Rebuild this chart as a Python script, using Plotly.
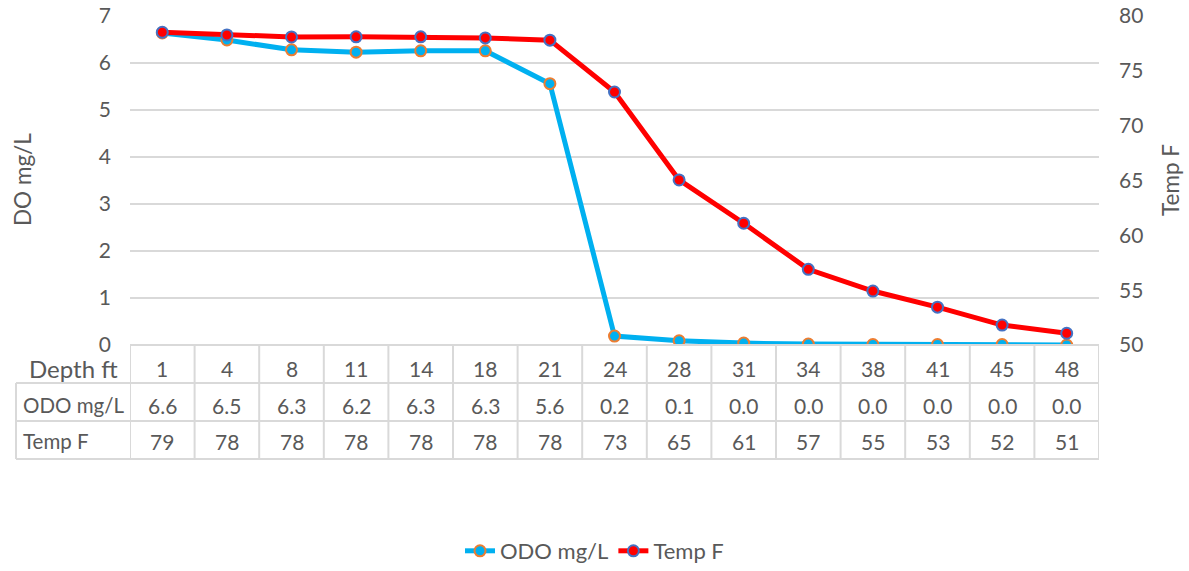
import plotly.graph_objects as go

# Profile data by depth
depth_ft = ["1", "4", "8", "11", "14", "18", "21", "24", "28", "31", "34", "38", "41", "45", "48"]
odo_mg_l = [6.64, 6.49, 6.28, 6.23, 6.26, 6.26, 5.56, 0.19, 0.09, 0.04, 0.02, 0.01, 0.01, 0.01, 0.0]
temp_f = [78.52, 78.27, 78.09, 78.1, 78.1, 78.0, 77.8, 73.07, 65.05, 61.1, 56.9, 54.92, 53.45, 51.82, 51.07]

row_labels = ["ODO mg/L", "Temp F"]
left_ticks = [0, 1, 2, 3, 4, 5, 6, 7]
right_ticks = [50, 55, 60, 65, 70, 75, 80]

W, H = 1189, 571
FONT = "Lato"
TXT = "#595959"
GRID = "#d9d9d9"


def px(x):
    return x / W


def py(y):
    return 1 - y / H


plot_x0, plot_x1 = 130, 1099
plot_top, plot_bot = 16, 345
row_lines = [345, 383, 421, 459]
label_left = 16

fig = go.Figure()

fig.add_trace(go.Scatter(
    x=depth_ft, y=odo_mg_l, name="ODO mg/L", mode="lines+markers",
    line=dict(color="#00b0f0", width=5),
    marker=dict(size=11, color="#00b0f0", line=dict(color="#ed7d31", width=2)),
    yaxis="y",
))
fig.add_trace(go.Scatter(
    x=depth_ft, y=temp_f, name="Temp F", mode="lines+markers",
    line=dict(color="#ff0000", width=5),
    marker=dict(size=11, color="#ff0000", line=dict(color="#4472c4", width=2)),
    yaxis="y2",
))

shapes = []
annotations = []

# Table grid: horizontal rules
for i, y in enumerate(row_lines):
    shapes.append(dict(type="line", xref="x", yref="paper",
                       x0=-0.5, x1=len(depth_ft) - 0.5, y0=py(y), y1=py(y),
                       line=dict(color=GRID, width=2)))
    if i > 0:
        shapes.append(dict(type="line", xref="paper", yref="paper",
                           x0=px(label_left), x1=px(plot_x0), y0=py(y), y1=py(y),
                           line=dict(color=GRID, width=2)))
# Table grid: vertical rules
for k in range(len(depth_ft) + 1):
    shapes.append(dict(type="line", xref="x", yref="paper",
                       x0=k - 0.5, x1=k - 0.5, y0=py(row_lines[0]), y1=py(row_lines[-1]),
                       line=dict(color=GRID, width=2)))
shapes.append(dict(type="line", xref="paper", yref="paper",
                   x0=px(label_left), x1=px(label_left), y0=py(row_lines[1]), y1=py(row_lines[-1]),
                   line=dict(color=GRID, width=2)))

row_centers = [368, 405, 441]
cell_font = dict(family=FONT, size=21, color=TXT)

# Table cells: one column per depth, placed on the category axis
for i, d in enumerate(depth_ft):
    annotations.append(dict(x=i, xref="x", y=py(row_centers[0]), yref="paper",
                            text=d, showarrow=False, font=cell_font,
                            xanchor="center", yanchor="middle"))
for i, v in enumerate(odo_mg_l):
    annotations.append(dict(x=i, xref="x", y=py(row_centers[1]), yref="paper",
                            text=f"{v:.1f}", showarrow=False, font=cell_font,
                            xanchor="center", yanchor="middle"))
for i, v in enumerate(temp_f):
    annotations.append(dict(x=i, xref="x", y=py(row_centers[2]), yref="paper",
                            text=f"{v:.0f}", showarrow=False, font=cell_font,
                            xanchor="center", yanchor="middle"))

annotations.append(dict(x=px(73), xref="paper", y=py(row_centers[0]), yref="paper",
                        text="Depth ft", showarrow=False,
                        font=dict(family=FONT, size=24, color=TXT),
                        xanchor="center", yanchor="middle"))
for lbl, yc in zip(row_labels, row_centers[1:]):
    annotations.append(dict(x=px(21), xref="paper", y=py(yc), yref="paper",
                            text=lbl, showarrow=False,
                            font=dict(family=FONT, size=20.5, color=TXT),
                            xanchor="left", yanchor="middle"))

# Axis titles
annotations.append(dict(x=px(22), xref="paper", y=py(180), yref="paper",
                        text="DO mg/L", textangle=-90, showarrow=False,
                        font=dict(family=FONT, size=22.5, color=TXT),
                        xanchor="center", yanchor="middle"))
annotations.append(dict(x=px(1170), xref="paper", y=py(180), yref="paper",
                        text="Temp F", textangle=-90, showarrow=False,
                        font=dict(family=FONT, size=22.5, color=TXT),
                        xanchor="center", yanchor="middle"))

fig.update_layout(
    width=W, height=H,
    margin=dict(l=0, r=0, t=0, b=0, autoexpand=False),
    paper_bgcolor="white", plot_bgcolor="white",
    font=dict(family=FONT, size=21, color=TXT),
    xaxis=dict(domain=[px(plot_x0), px(plot_x1)], type="category",
               range=[-0.5, len(depth_ft) - 0.5], showticklabels=False,
               showgrid=False, zeroline=False, showline=False, ticks="",
               automargin=False),
    yaxis=dict(domain=[py(plot_bot), py(plot_top)], range=[0, 7],
               tickvals=left_ticks, showgrid=True, gridcolor=GRID, gridwidth=1.5,
               zeroline=False, showline=False, ticks="",
               anchor="free", position=px(111), automargin=False,
               tickfont=dict(family=FONT, size=21, color=TXT)),
    yaxis2=dict(domain=[py(plot_bot), py(plot_top)], range=[50, 80],
                tickvals=right_ticks, overlaying="y", side="right",
                showgrid=False, zeroline=False, showline=False, ticks="",
                anchor="free", position=px(1118), automargin=False,
                tickfont=dict(family=FONT, size=21, color=TXT)),
    legend=dict(orientation="h", x=0.5, xanchor="center", y=py(551), yanchor="middle",
                font=dict(family=FONT, size=22, color=TXT), bgcolor="rgba(0,0,0,0)"),
    shapes=shapes,
    annotations=annotations,
)

fig.write_html("out.html")
